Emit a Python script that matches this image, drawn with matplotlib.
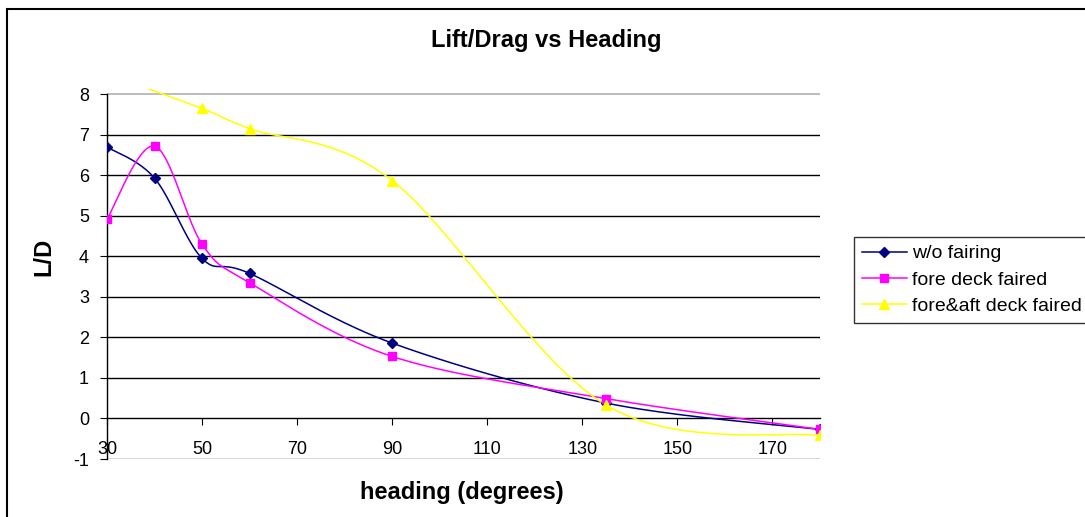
import numpy as np
import matplotlib
matplotlib.use('Agg')
import matplotlib.pyplot as plt
from matplotlib.patches import Rectangle

plt.rcParams['font.family'] = ['Liberation Sans', 'DejaVu Sans']
plt.rcParams['axes.unicode_minus'] = False

# data
heading = [30, 40, 50, 60, 90, 135, 180]
wo_fairing = [6.70, 5.93, 3.95, 3.58, 1.86, 0.38, -0.27]
fore_deck = [4.92, 6.72, 4.30, 3.35, 1.53, 0.49, -0.27]
heading_aft = [30, 50, 60, 90, 135, 180]
fore_aft_deck = [8.50, 7.65, 7.15, 5.87, 0.33, -0.42]

labels = ['w/o fairing', 'fore deck faired', 'fore&aft deck faired']
colors = ['#000080', '#FF00FF', '#FFFF00']
markers = ['D', 's', '^']
msizes = [5, 6, 7]

x_ticks = [30, 50, 70, 90, 110, 130, 150, 170]
y_ticks = [-1, 0, 1, 2, 3, 4, 5, 6, 7, 8]


def smooth(xs, ys, n=40):
    # excel-like bezier smoothing
    p = np.column_stack([xs, ys]).astype(float)
    ext = np.vstack([p[0], p, p[-1]])
    out = []
    t = np.linspace(0, 1, n)[:, None]
    for i in range(len(p) - 1):
        p0 = ext[i + 1]
        p3 = ext[i + 2]
        c1 = p0 + (ext[i + 2] - ext[i]) / 6
        c2 = p3 - (ext[i + 3] - ext[i + 1]) / 6
        seg = ((1 - t) ** 3) * p0 + 3 * ((1 - t) ** 2) * t * c1 + 3 * (1 - t) * t ** 2 * c2 + t ** 3 * p3
        out.append(seg if i == 0 else seg[1:])
    out = np.vstack(out)
    return out[:, 0], out[:, 1]


W, H = 1085, 517
fig = plt.figure(figsize=(W / 100, H / 100), dpi=100)
ax = fig.add_axes([107 / W, (H - 459) / H, (820 - 107) / W, (459 - 89) / H])

for yv in range(1, 8):
    ax.axhline(yv, color='black', lw=1.0, zorder=1)
ax.axhline(8, color='#b0b0b0', lw=1.2, zorder=1)
ax.axhline(-1, color='#d0d0d0', lw=1.2, zorder=1)

series = [(heading, wo_fairing), (heading, fore_deck), (heading_aft, fore_aft_deck)]
handles = []
for (xs, ys), lab, c, m, ms in zip(series, labels, colors, markers, msizes):
    sx, sy = smooth(xs, ys)
    ax.plot(sx, sy, color=c, lw=1.1, zorder=3)
    ax.plot(xs, ys, linestyle='none', marker=m, color=c, ms=ms, zorder=4)
    h, = ax.plot([], [], color=c, lw=1.1, marker=m, ms=ms, label=lab)
    handles.append(h)

ax.set_xlim(30, 180)
ax.set_ylim(-1, 8.13)
ax.set_xticks(x_ticks)
ax.set_yticks(y_ticks)
ax.spines['top'].set_visible(False)
ax.spines['right'].set_visible(False)
ax.spines['bottom'].set_position(('data', 0))
ax.spines['bottom'].set_zorder(2)
ax.spines['left'].set_bounds(-1, 8)
for s in ['left', 'bottom']:
    ax.spines[s].set_linewidth(1.0)
ax.tick_params(axis='x', direction='out', length=5, pad=11, labelsize=13)
ax.tick_params(axis='y', direction='out', length=5, pad=8, labelsize=13)

fig.text(546 / W, (H - 40) / H, 'Lift/Drag vs Heading', ha='center', va='center',
         fontsize=17, fontweight='bold')
fig.text(462 / W, (H - 493) / H, 'heading (degrees)', ha='center', va='center',
         fontsize=17, fontweight='bold')
fig.text(44 / W, (H - 257) / H, 'L/D', ha='center', va='center', rotation=90,
         fontsize=17, fontweight='bold')

leg = fig.legend(handles=handles, loc='upper left', bbox_to_anchor=(854 / W, (H - 237) / H),
                 frameon=True, fancybox=False, edgecolor='black', fontsize=14,
                 handlelength=2.3, handletextpad=0.3, labelspacing=0.45,
                 borderpad=0.4, borderaxespad=0)
leg.get_frame().set_linewidth(1.0)

# chart area border
fig.patches.append(Rectangle((7 / W, -0.1), 1.2, (H - 9) / H + 0.1, transform=fig.transFigure,
                             fill=False, edgecolor='black', lw=1.5))

fig.savefig('out.png', dpi=100)
